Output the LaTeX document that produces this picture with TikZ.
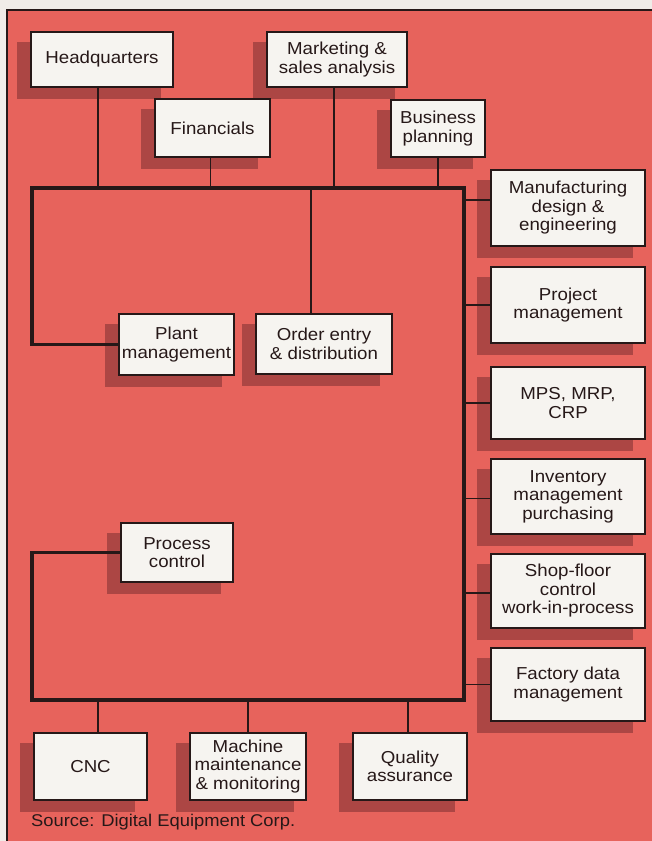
\documentclass[tikz,border=0pt]{standalone}
\usepackage{fontspec}
\setmainfont{Liberation Sans}[FakeStretch=1.08]
\usetikzlibrary{calc}

\definecolor{paper}{RGB}{231,99,92}
\definecolor{shadowred}{RGB}{172,70,68}
\definecolor{boxfill}{RGB}{246,244,240}
\definecolor{ink}{RGB}{38,24,24}
\definecolor{margin}{RGB}{240,236,232}

\pgfdeclarelayer{bg}
\pgfdeclarelayer{shade}
\pgfdeclarelayer{wires}
\pgfsetlayers{bg,shade,wires,main}

% box given by its corners: name, x1, y1, x2, y2, text
\newcommand\orgbox[6]{%
  \node[unitbox, minimum width={(#4-#2)*1pt}, minimum height={(#5-#3)*1pt}]
    (#1) at ({(#2+#4)/2},{(#3+#5)/2}) {#6};}

\begin{document}
\begin{tikzpicture}[x=1pt,y=-1pt,
  unitbox/.style={draw=ink, line width=1.8pt, fill=boxfill, align=center,
    inner sep=0pt, text=ink, font=\fontsize{17.3}{18.5}\selectfont},
  wire/.style={draw=ink, line width=1.8pt},
  bus/.style={draw=ink, line width=3.4pt, line join=miter, line cap=rect}]

\useasboundingbox (0,0) rectangle (652,841);

% page, red panel and its frame
\begin{pgfonlayer}{bg}
  \fill[margin] (0,0) rectangle (652,841);
  \fill[paper] (7,10) rectangle (652,841);
  \draw[ink, line width=2.4pt] (7,841) -- (7,10) -- (652,10);
\end{pgfonlayer}

% top row
\orgbox{hq}{31}{32}{173}{87}{Headquarters}
\orgbox{mkt}{267}{32}{407}{87}{Marketing \&\\sales analysis}
\orgbox{fin}{155}{99}{270}{157}{Financials}
\orgbox{bp}{391}{100}{485}{157}{Business\\planning}

% right column
\orgbox{mfg}{491}{170}{645}{246}{Manufacturing\\design \&\\engineering}
\orgbox{proj}{491}{267}{645}{343}{Project\\management}
\orgbox{mps}{491}{367}{645}{439}{MPS, MRP,\\CRP}
\orgbox{inv}{491}{459}{645}{534}{Inventory\\management\\purchasing}
\orgbox{shop}{491}{554}{645}{628}{Shop-floor\\control\\work-in-process}
\orgbox{fdm}{491}{648}{645}{721}{Factory data\\management}

% inside the bus
\orgbox{plant}{119}{314}{234}{375}{Plant\\management}
\orgbox{order}{256}{314}{392}{374}{Order entry\\\& distribution}
\orgbox{proc}{121}{523}{233}{582}{Process\\control}

% bottom row
\orgbox{cnc}{34}{733}{147}{800}{CNC}
\orgbox{mach}{190}{733}{306}{800}{Machine\\maintenance\\\& monitoring}
\orgbox{qa}{353}{733}{467}{800}{Quality\\assurance}

\node[anchor=base west, inner sep=0pt, text=ink,
  font=\fontsize{17}{18}\selectfont] (src) at (31,826)
  {Source: Digital Equipment Corp.};

% drop shadows
\begin{pgfonlayer}{shade}
  \foreach \n in {hq,mkt,fin,bp,mfg,proj,mps,inv,shop,fdm,plant,order,proc,cnc,mach,qa}
    \fill[shadowred] ($(\n.south west)+(-13,11)$) rectangle ($(\n.north east)+(-13,11)$);
\end{pgfonlayer}

% bus corners
\coordinate (tl) at (32,188);
\coordinate (tr) at (464,188);
\coordinate (br) at (464,700);
\coordinate (bl) at (32,700);

\begin{pgfonlayer}{wires}
  \draw[bus] (plant.west) -| (tl) -- (tr) -- (br) -- (bl) |- (proc.west);
  % top taps
  \draw[wire] ([xshift=-4]hq.south) -- ([xshift=-4]hq.south |- tl);
  \draw[wire] ([xshift=-2]fin.south) -- ([xshift=-2]fin.south |- tl);
  \draw[wire] ([xshift=-3]mkt.south) -- ([xshift=-3]mkt.south |- tl);
  \draw[wire] (bp.south) -- (bp.south |- tl);
  \draw[wire] ([xshift=56]order.north west) -- ([xshift=56]order.north west |- tl);
  % right taps
  \draw[wire] ([yshift=8]mfg.west) -- ([yshift=8]mfg.west -| tr);
  \draw[wire] (proj.west) -- (proj.west -| tr);
  \draw[wire] (mps.west) -- (mps.west -| tr);
  \draw[wire] ([yshift=-2]inv.west) -- ([yshift=-2]inv.west -| tr);
  \draw[wire] ([yshift=-2]shop.west) -- ([yshift=-2]shop.west -| tr);
  \draw[wire] (fdm.west) -- (fdm.west -| tr);
  % bottom taps
  \draw[wire] ([xshift=65]cnc.north west) -- ([xshift=65]cnc.north west |- bl);
  \draw[wire] (mach.north) -- (mach.north |- bl);
  \draw[wire] ([xshift=-2]qa.north) -- ([xshift=-2]qa.north |- bl);
\end{pgfonlayer}
\end{tikzpicture}
\end{document}
